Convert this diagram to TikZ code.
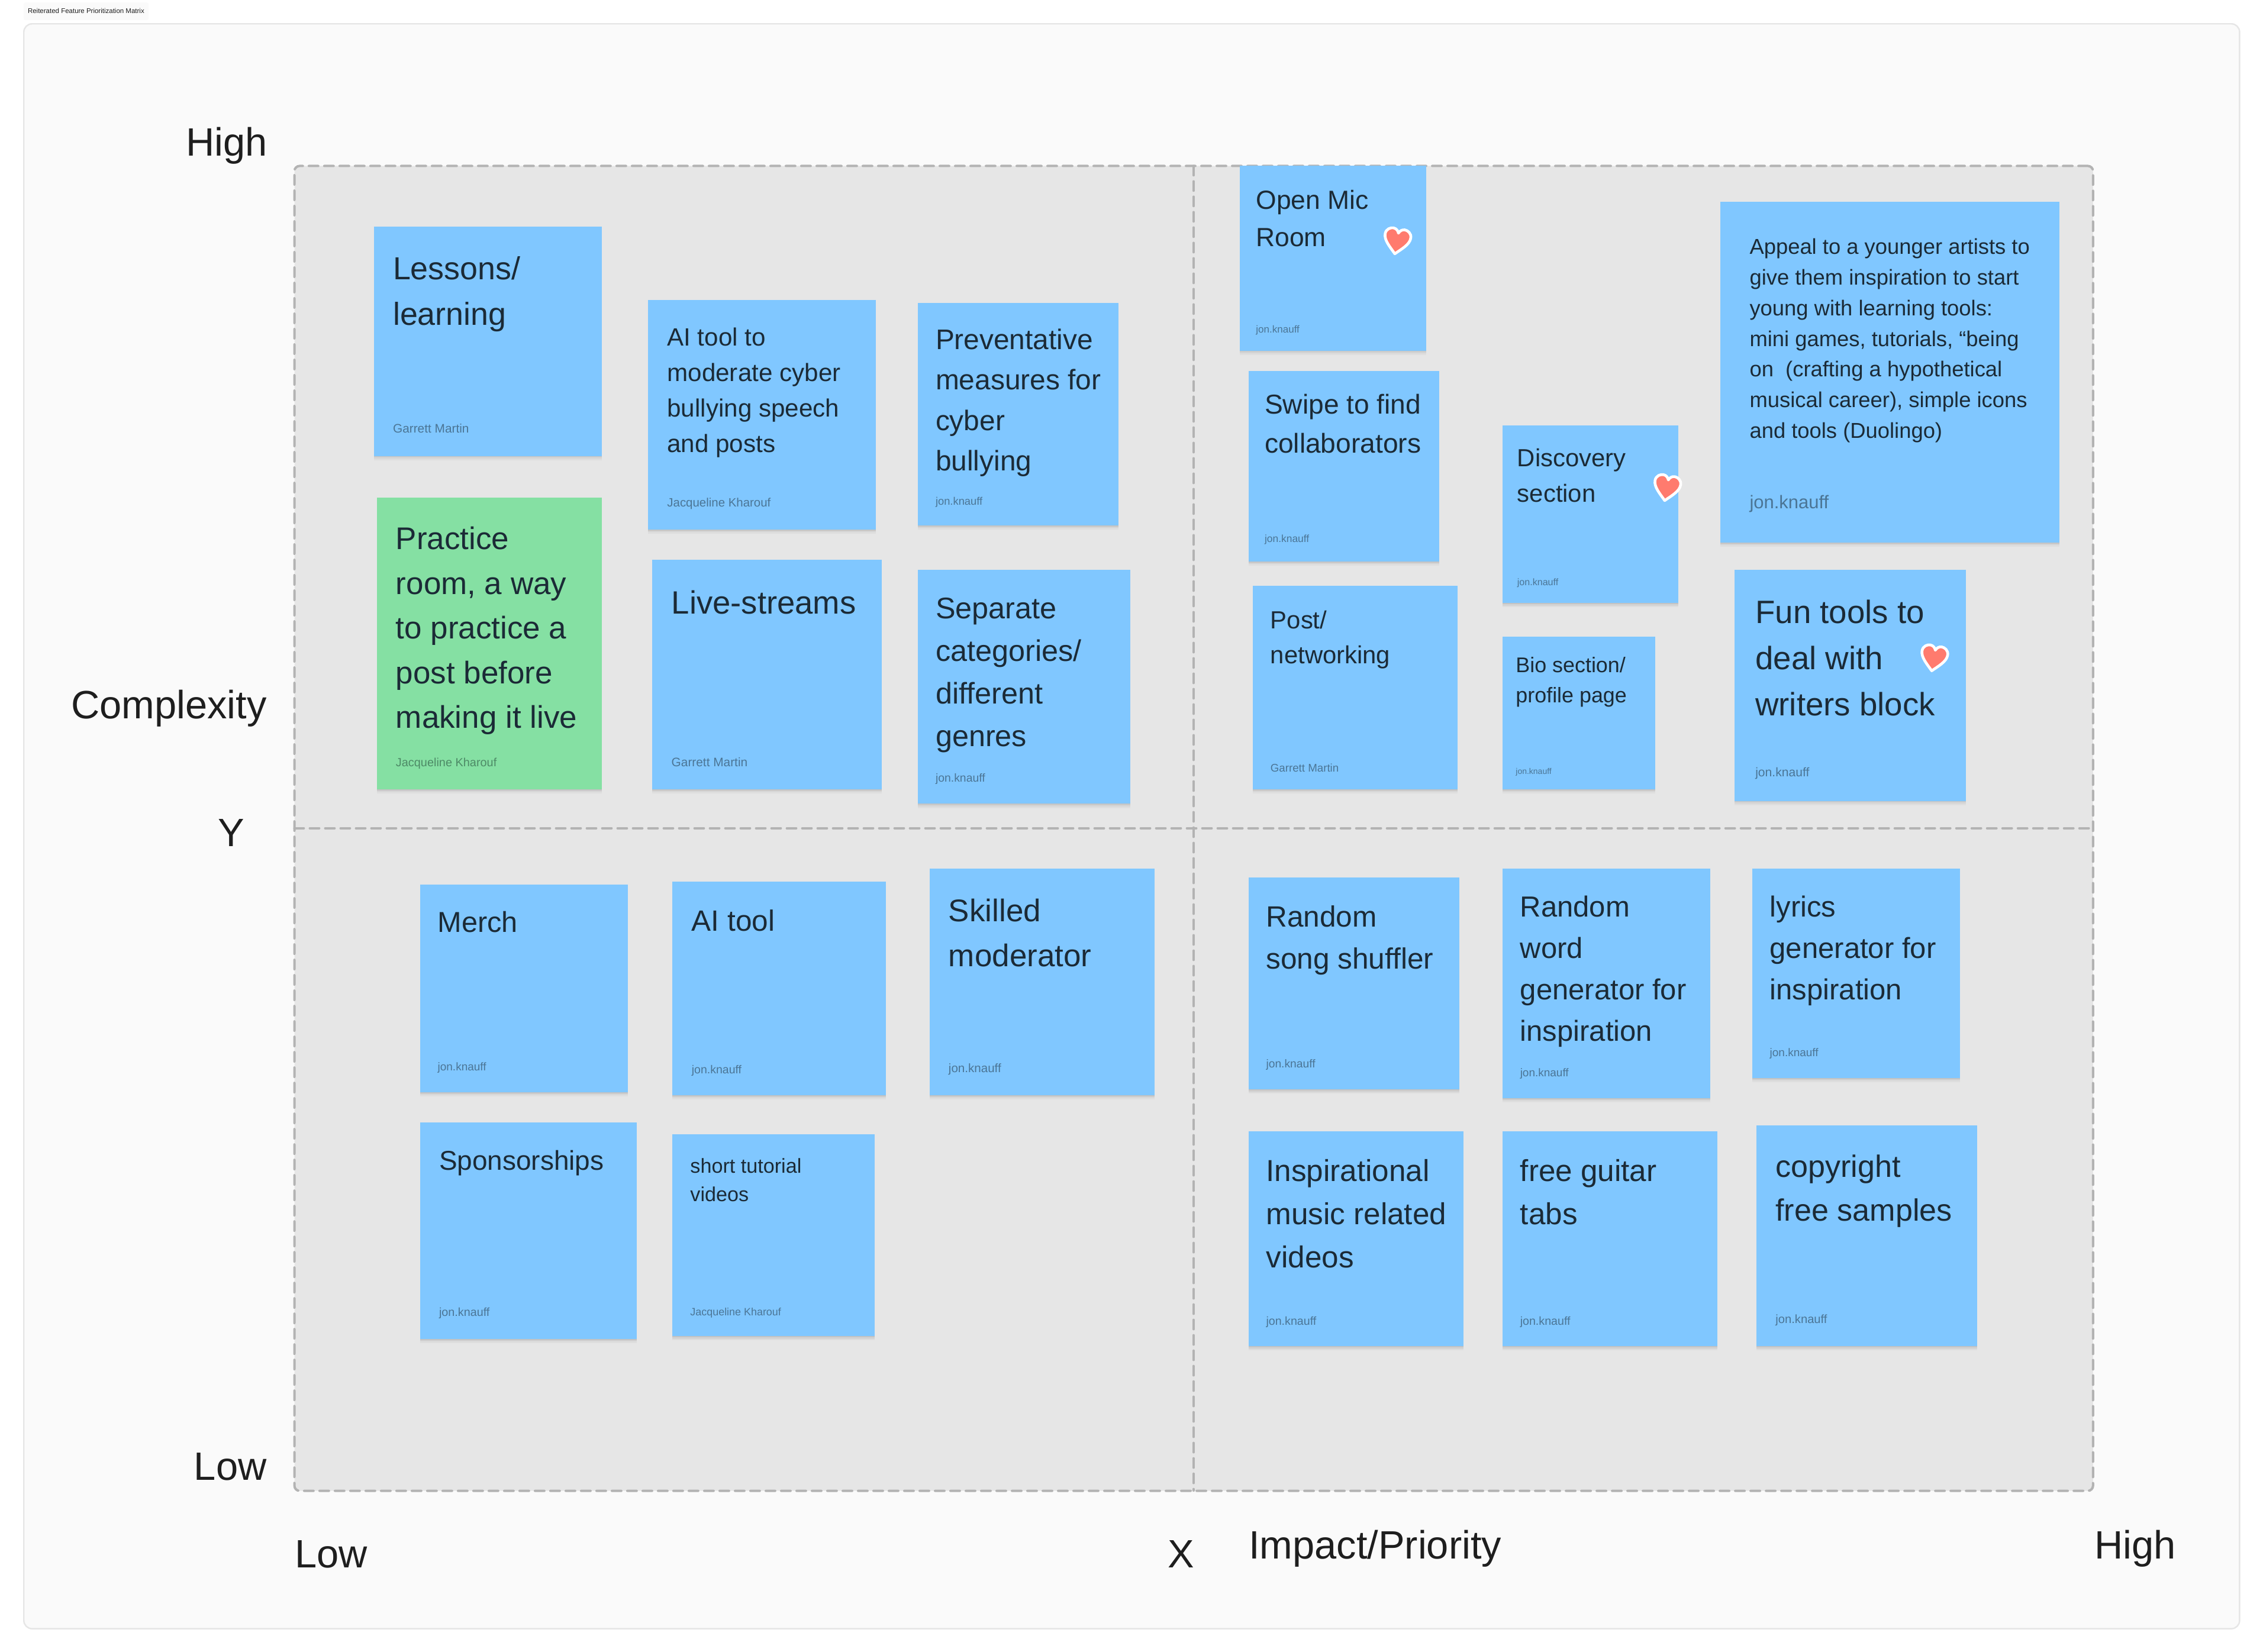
\documentclass[tikz,border=0pt]{standalone}
\usepackage{fontspec}
\setmainfont{Liberation Sans}
\usetikzlibrary{shadows}
\definecolor{frameFill}{HTML}{FAFAFA}
\definecolor{frameLine}{HTML}{E6E6E6}
\definecolor{gridFill}{HTML}{E6E6E6}
\definecolor{gridLine}{HTML}{B3B3B3}
\definecolor{noteBlue}{HTML}{80C7FF}
\definecolor{noteGreen}{HTML}{85E0A3}
\definecolor{noteInk}{HTML}{1B2A36}
\definecolor{whoInk}{HTML}{4B7595}
\definecolor{whoGreen}{HTML}{4D8A66}
\definecolor{labelInk}{HTML}{1E1E1E}
\definecolor{heartFill}{HTML}{FF7B6E}
\newcommand{\U}{0.6939pt}
\newcommand{\cardfont}[1]{\pgfmathsetmacro\fs{#1*0.486}\pgfmathsetmacro\ls{#1*0.6939}\fontsize{\fs}{\ls}\selectfont}
\newcommand{\whofont}[1]{\pgfmathsetmacro\fs{#1*0.0375}\fontsize{\fs}{\fs}\selectfont}
\tikzset{
  softshadow/.style={
    drop shadow={shadow xshift=0pt,shadow yshift=-.5pt,fill=black,opacity=.07},
    drop shadow={shadow xshift=0pt,shadow yshift=-1.2pt,fill=black,opacity=.05},
    drop shadow={shadow xshift=0pt,shadow yshift=-2pt,fill=black,opacity=.03}},
  card/.style={rectangle,fill=noteBlue,inner sep=0pt,outer sep=0pt,anchor=north west,softshadow},
  cardsize/.style 2 args={minimum width=#1*\U,minimum height=#2*\U},
  cardtext/.style={text=noteInk,anchor=north west,inner sep=0pt,yshift=-.6pt,align=left,font=\cardfont{#1}},
  who/.style={text=whoInk,anchor=west,inner sep=0pt,font=\whofont{#1}},
  axislabel/.style={text=labelInk,inner sep=0pt,font=\fontsize{19}{23}\selectfont},
  griddash/.style={draw=gridLine,line width=1.64*\U,dash pattern=on 6.5*\U off 4.16*\U,line cap=round},
  pics/heartmark/.style={code={
    \draw[white,line width=1.9*\U,fill=heartFill,line join=round,
      drop shadow={shadow xshift=0pt,shadow yshift=-.6pt,fill=black,opacity=.15}]
      (0,9) .. controls (-4,5) and (-9,1) .. (-9,-3.5)
      .. controls (-9,-7) and (-6,-8.5) .. (-4,-8.5)
      .. controls (-2,-8.5) and (-0.5,-7) .. (0,-5.5)
      .. controls (0.5,-7) and (2,-8.5) .. (4,-8.5)
      .. controls (6,-8.5) and (9,-7) .. (9,-3.5)
      .. controls (9,1) and (4,5) .. (0,9) -- cycle;
  }},
}

\begin{document}
\begin{tikzpicture}[x=0.024388cm,y=-0.024388cm,line cap=round]
  \useasboundingbox (0,0) rectangle (1568,1144.8);
  \fill[white] (0,0) rectangle (1568,1144.8);

  % --- frame and title ---
  \node[fill=frameFill,rounded corners=1pt,inner sep=0pt,outer sep=0pt,anchor=north west,minimum width=86.6*\U,minimum height=12.3*\U] (titleChip) at (16.4,1.7) {};
  \node[text=labelInk,anchor=west,inner sep=0pt,font=\fontsize{3.27}{4}\selectfont] (title) at (19,7.4) {Reiterated Feature Prioritization Matrix};
  \node[fill=frameFill,draw=frameLine,line width=1*\U,rounded corners=4pt,anchor=north west,inner sep=0pt,outer sep=0pt,minimum width=1535*\U,minimum height=1112*\U] (frame) at (16.5,16.5) {};

  % --- matrix ---
  \node[griddash,fill=gridFill,rounded corners=2.5pt,anchor=north west,inner sep=0pt,outer sep=0pt,minimum width=1246*\U,minimum height=918*\U] (grid) at (204,115) {};
  \coordinate (midTop) at (827,115);
  \coordinate (midBottom) at (827,1033);
  \coordinate (midLeft) at (204,574);
  \coordinate (midRight) at (1450,574);
  \draw[griddash] (midTop) -- (midBottom);
  \draw[griddash] (midLeft) -- (midRight);

  % axis labels
  \node[axislabel,anchor=east] (yHigh) at (185.5,101) {High};
  \node[axislabel,anchor=east] (yName) at (185,491) {Complexity};
  \node[axislabel,anchor=east] (yMark) at (169.5,577) {Y};
  \node[axislabel,anchor=east] (yLow) at (185,1016.5) {Low};
  \node[axislabel,anchor=west] (xLow) at (204,1077) {Low};
  \node[axislabel,anchor=west] (xMark) at (809,1077) {X};
  \node[axislabel,anchor=west] (xName) at (865,1073) {Impact/Priority};
  \node[axislabel,anchor=west] (xHigh) at (1451,1073) {High};

  % --- top left ---
  \node[card,cardsize={158}{159}] (lessons) at (259,157) {};
  \node[cardtext=31.5] (lessonsText) at (272,176.6) {Lessons/\\learning};
  \node[who=158] (lessonsWho) at (272,297) {Garrett Martin};

  \node[card,cardsize={158}{159}] (cyber) at (449,208) {};
  \node[cardtext=24.7] (cyberText) at (462,225.8) {AI tool to\\moderate cyber\\bullying speech\\and posts};
  \node[who=155] (cyberWho) at (462,349) {Jacqueline Kharouf};

  \node[card,cardsize={139}{154}] (prevent) at (636,210) {};
  \node[cardtext=28] (preventText) at (648,226.8) {Preventative\\measures for\\cyber\\bullying};
  \node[who=139] (preventWho) at (648,348) {jon.knauff};

  \node[card,cardsize={156}{202},fill=noteGreen] (practice) at (261,345) {};
  \node[cardtext=31] (practiceText) at (274,363.8) {Practice\\room, a way\\to practice a\\post before\\making it live};
  \node[who=151,text=whoGreen] (practiceWho) at (274,529) {Jacqueline Kharouf};

  \node[card,cardsize={159}{159}] (live) at (452,388) {};
  \node[cardtext=31.9] (liveText) at (465,408.2) {Live-streams};
  \node[who=158] (liveWho) at (465,528) {Garrett Martin};

  \node[card,cardsize={147}{162}] (genres) at (636,395) {};
  \node[cardtext=29.5] (genresText) at (648,413.3) {Separate\\categories/\\different\\genres};
  \node[who=147] (genresWho) at (648,540) {jon.knauff};

  % --- top right ---
  \node[card,cardsize={129}{128}] (openmic) at (859,115) {};
  \node[cardtext=26] (openmicText) at (870,130.4) {Open Mic\\Room};
  \node[who=129] (openmicWho) at (870,229) {jon.knauff};

  \node[card,cardsize={132}{132}] (swipe) at (865,257) {};
  \node[cardtext=27] (swipeText) at (876,272.1) {Swipe to find\\collaborators};
  \node[who=132] (swipeWho) at (876,374) {jon.knauff};

  \node[card,cardsize={122}{123}] (discovery) at (1041,295) {};
  \node[cardtext=24.5] (discoveryText) at (1051,309.9) {Discovery\\section};
  \node[who=122] (discoveryWho) at (1051,404) {jon.knauff};

  \node[card,cardsize={235}{236}] (appeal) at (1192,140) {};
  \node[cardtext=21.3] (appealText) at (1212,164) {Appeal to a younger artists to\\give them inspiration to start\\young with learning tools:\\mini games, tutorials, “being\\on\ \ (crafting a hypothetical\\musical career), simple icons\\and tools (Duolingo)};
  \node[who=235] (appealWho) at (1212,349) {jon.knauff};

  \node[card,cardsize={142}{141}] (post) at (868,406) {};
  \node[cardtext=24.5] (postText) at (880,421.9) {Post/\\networking};
  \node[who=142] (postWho) at (880,532) {Garrett Martin};

  \node[card,cardsize={106}{106}] (bio) at (1041,441) {};
  \node[cardtext=21] (bioText) at (1050,454.1) {Bio section/\\profile page};
  \node[who=106] (bioWho) at (1050,535) {jon.knauff};

  \node[card,cardsize={160}{160}] (funtools) at (1202,395) {};
  \node[cardtext=32] (funtoolsText) at (1216,414.4) {Fun tools to\\deal with\\writers block};
  \node[who=160] (funtoolsWho) at (1216,536) {jon.knauff};

  % hearts
  \pic[rotate=-10] at (968,167) {heartmark};
  \pic[rotate=-10] at (1155,338) {heartmark};
  \pic[rotate=-10] at (1340,456) {heartmark};

  % --- bottom left ---
  \node[card,cardsize={144}{144}] (merch) at (291,613) {};
  \node[cardtext=28.5] (merchText) at (303,630.6) {Merch};
  \node[who=144] (merchWho) at (303,740) {jon.knauff};

  \node[card,cardsize={148}{148}] (aitool) at (466,611) {};
  \node[cardtext=29] (aitoolText) at (479,629.4) {AI tool};
  \node[who=148] (aitoolWho) at (479,742) {jon.knauff};

  \node[card,cardsize={156}{157}] (skilled) at (644,602) {};
  \node[cardtext=31] (skilledText) at (657,621.8) {Skilled\\moderator};
  \node[who=156] (skilledWho) at (657,741) {jon.knauff};

  \node[card,cardsize={150}{150}] (sponsor) at (291,778) {};
  \node[cardtext=26.9] (sponsorText) at (304,796.1) {Sponsorships};
  \node[who=150] (sponsorWho) at (304,910) {jon.knauff};

  \node[card,cardsize={140}{140}] (tutorial) at (466,786) {};
  \node[cardtext=20] (tutorialText) at (478,801.4) {short tutorial\\videos};
  \node[who=136] (tutorialWho) at (478,910) {Jacqueline Kharouf};

  % --- bottom right ---
  \node[card,cardsize={146}{147}] (shuffler) at (865,608) {};
  \node[cardtext=29] (shufflerText) at (877,626.4) {Random\\song shuffler};
  \node[who=146] (shufflerWho) at (877,738) {jon.knauff};

  \node[card,cardsize={144}{159}] (wordgen) at (1041,602) {};
  \node[cardtext=28.7] (wordgenText) at (1053,619.5) {Random\\word\\generator for\\inspiration};
  \node[who=144] (wordgenWho) at (1053,744) {jon.knauff};

  \node[card,cardsize={144}{145}] (lyrics) at (1214,602) {};
  \node[cardtext=28.7] (lyricsText) at (1226,619.5) {lyrics\\generator for\\inspiration};
  \node[who=144] (lyricsWho) at (1226,730) {jon.knauff};

  \node[card,cardsize={149}{149}] (videos) at (865,784) {};
  \node[cardtext=30] (videosText) at (877,802.1) {Inspirational\\music related\\videos};
  \node[who=149] (videosWho) at (877,916) {jon.knauff};

  \node[card,cardsize={149}{149}] (guitar) at (1041,784) {};
  \node[cardtext=30] (guitarText) at (1053,802.1) {free guitar\\tabs};
  \node[who=149] (guitarWho) at (1053,916) {jon.knauff};

  \node[card,cardsize={153}{153}] (samples) at (1217,780) {};
  \node[cardtext=30.5] (samplesText) at (1230,799) {copyright\\free samples};
  \node[who=153] (samplesWho) at (1230,915) {jon.knauff};
\end{tikzpicture}
\end{document}
